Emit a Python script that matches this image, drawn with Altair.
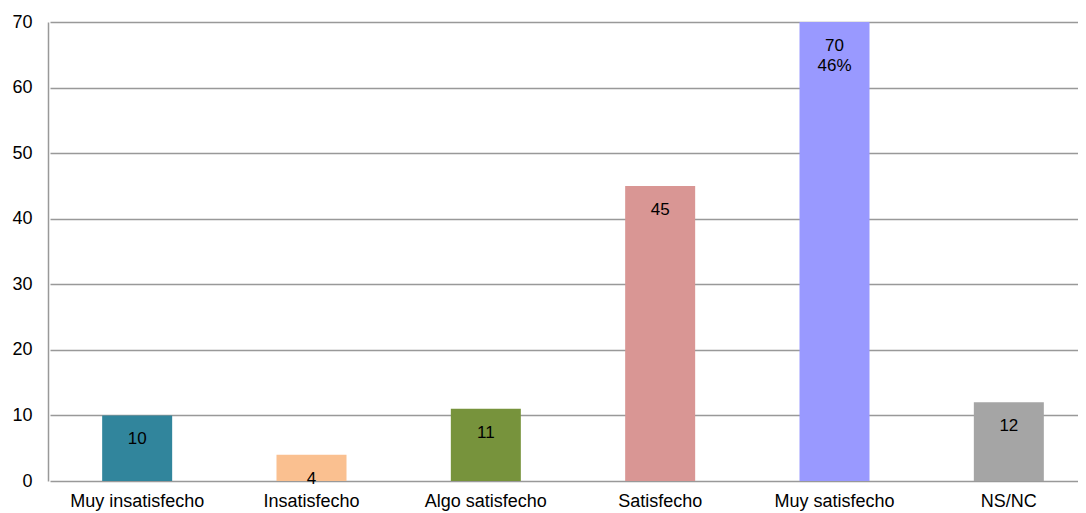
import altair as alt
import pandas as pd

categories = ["Muy insatisfecho", "Insatisfecho", "Algo satisfecho", "Satisfecho", "Muy satisfecho", "NS/NC"]
values = [10, 4, 11, 45, 70, 12]
labels = [["10"], ["4"], ["11"], ["45"], ["70", "46%"], ["12"]]
colors = ["#31859C", "#FAC090", "#77933C", "#D99694", "#9999FF", "#A5A5A5"]

df = pd.DataFrame({"cat": categories, "val": values, "label": labels, "color": colors})

FONT = "Liberation Sans"

x = alt.X("cat:N", sort=categories, title=None,
          scale=alt.Scale(paddingInner=0.6, paddingOuter=0.3, range=[2, 1048]),
          axis=alt.Axis(labelAngle=0, labelFontSize=18, labelColor="#000000", labelFont=FONT,
                        ticks=False, domain=False, labelPadding=11))
y = alt.Y("val:Q", title=None,
          scale=alt.Scale(domain=[0, 70], nice=False),
          axis=alt.Axis(values=[0, 10, 20, 30, 40, 50, 60, 70], labelFontSize=18, labelColor="#000000",
                        labelFont=FONT, ticks=False, domain=True, domainColor="#999999",
                        domainWidth=1.5, gridColor="#999999", gridWidth=1.5, labelPadding=16))

bars = alt.Chart(df).mark_bar(size=70).encode(
    x=x, y=y, color=alt.Color("color:N", scale=None)
)

text = alt.Chart(df).mark_text(baseline="top", dy=16, fontSize=17, font=FONT,
                               color="#000000", lineHeight=20).encode(
    x=alt.X("cat:N", sort=categories), y="val:Q", text="label"
)

chart = (bars + text).properties(
    width=1030, height=459,
    autosize=alt.AutoSizeParams(type="none"),
    padding={"left": 40, "top": 14, "right": 0, "bottom": 30},
).configure_view(stroke=None).configure_axisX(grid=False)

chart.save("out.html", embed_options={"renderer": "svg", "actions": False})
